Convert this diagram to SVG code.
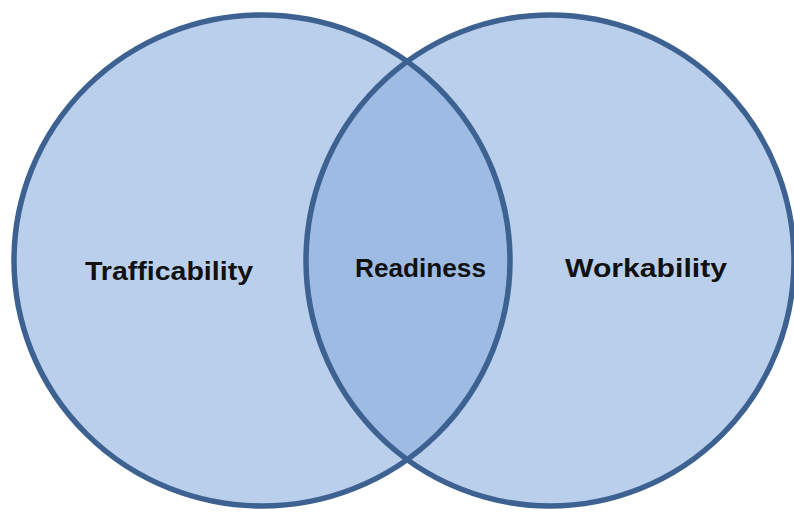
<svg xmlns="http://www.w3.org/2000/svg" width="794" height="513" viewBox="0 0 794 513">
<style>
.fill{fill:#B9CFEB;stroke:none}
.lens{fill:#9EBCE3;stroke:none}
.edge{fill:none;stroke:#3D6291;stroke-width:5.5}
.lbl{font-family:"Liberation Sans",Arial,sans-serif;font-weight:bold;font-size:26px;fill:#111111}
</style>
<defs>
<clipPath id="clipR"><ellipse cx="550" cy="260.5" rx="244" ry="245.5"/></clipPath>
</defs>
<rect width="794" height="513" fill="#ffffff"/>
<g id="trafficability">
<ellipse class="fill" cx="262" cy="260.5" rx="248" ry="245.5"/>
</g>
<g id="workability">
<ellipse class="fill" cx="550" cy="260.5" rx="244" ry="245.5"/>
</g>
<g id="readiness">
<ellipse class="lens" cx="262" cy="260.5" rx="248" ry="245.5" clip-path="url(#clipR)"/>
</g>
<g id="outlines">
<ellipse class="edge" cx="262" cy="260.5" rx="248" ry="245.5"/>
<ellipse class="edge" cx="550" cy="260.5" rx="244" ry="245.5"/>
</g>
<g id="labels">
<text class="lbl" x="85" y="280" textLength="168" lengthAdjust="spacingAndGlyphs">Trafficability</text>
<text class="lbl" x="355" y="277" textLength="131" lengthAdjust="spacingAndGlyphs">Readiness</text>
<text class="lbl" x="565" y="277" textLength="162" lengthAdjust="spacingAndGlyphs">Workability</text>
</g>
</svg>
